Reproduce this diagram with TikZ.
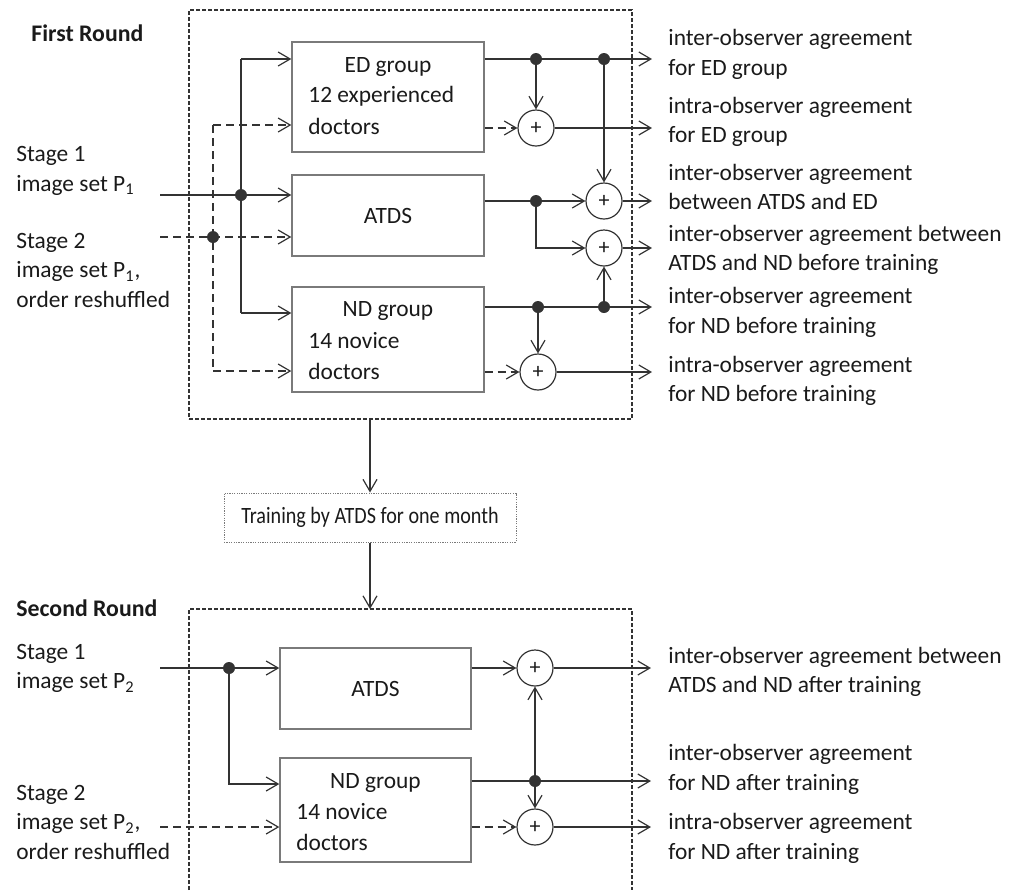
\documentclass[tikz,border=0pt]{standalone}
\usepackage{fontspec}
\setmainfont{Carlito}
\usetikzlibrary{arrows.meta}
\definecolor{ln}{HTML}{333333}
\definecolor{bx}{HTML}{7A7A7A}
\definecolor{tx}{HTML}{1A1A1A}
\begin{document}
\begin{tikzpicture}[x=0.5pt,y=-0.5pt,
  font=\fontsize{11.7}{14.75}\selectfont,
  >={Straight Barb[length=6pt,width=7pt]},
  every node/.style={text=tx},
  plain/.style={draw=ln,line width=0.6pt},
  conn/.style={plain,->},
  dconn/.style={conn,dash pattern=on 4pt off 2.5pt},
  dline/.style={plain,dash pattern=on 4pt off 2.5pt},
  proc/.style={draw=bx,line width=0.7pt,minimum width=96pt,inner sep=0pt},
  sum/.style={circle,draw=ln,line width=0.6pt,minimum size=18pt,inner sep=0pt,font=\fontsize{11}{11}\selectfont},
  bigbox/.style={draw=ln,line width=0.6pt,dash pattern=on 2pt off 1pt},
  lbl/.style={anchor=west,align=left,inner sep=0pt},
  dot/.style={fill=ln}
]
\useasboundingbox (0,0) rectangle (1033,890);

% ---------------- First round ----------------
\node[bigbox,minimum width=221.5pt,minimum height=204.5pt,inner sep=0pt] (r1) at (410.5,214.5) {};
\node[lbl,font=\fontsize{11.9}{14.75}\selectfont\bfseries] (fr) at (31,33) {First Round};

\node[proc,minimum height=55pt] (ed) at (388,97) {};
\node (edl1) at (388,67) {ED group};
\node[lbl] (edl2) at (308,96) {12 experienced};
\node[lbl] (edl3) at (308,126) {doctors};

\node[proc,minimum height=40.5pt] (atds) at (388,215.5) {};
\node (atdsl) at (388,216) {ATDS};

\node[proc,minimum height=52.5pt] (nd) at (388,339.5) {};
\node (ndl1) at (388,311) {ND group};
\node[lbl] (ndl2) at (308,341) {14 novice};
\node[lbl] (ndl3) at (308,371) {doctors};

\node[lbl] (in1) at (16,171) {Stage 1\\image set P\textsubscript{1}};
\node[lbl] (in2) at (16,270) {Stage 2\\image set P\textsubscript{1},\\order reshuffled};

% inputs
\coordinate (s1) at (160,195);
\coordinate (j1) at (241,195);
\coordinate (j1t) at (241,59);
\coordinate (j1b) at (241,313);
\draw[conn] (s1) -- (s1 -| atds.west);
\draw[plain] (j1t) -- (j1b);
\draw[conn] (j1t) -- (j1t -| ed.west);
\draw[conn] (j1b) -- (j1b -| nd.west);
\fill[dot] (j1) circle (3pt);

\coordinate (s2) at (160,237);
\coordinate (j2) at (213,237);
\coordinate (j2t) at (213,125);
\coordinate (j2b) at (213,371);
\draw[dconn] (s2) -- (s2 -| atds.west);
\draw[dline] (j2t) -- (j2b);
\draw[dconn] (j2t) -- (j2t -| ed.west);
\draw[dconn] (j2b) -- (j2b -| nd.west);
\fill[dot] (j2) circle (3pt);

% sums
\node[sum] (c1) at (536,128) {+};
\node[sum] (c3) at (604,201) {+};
\node[sum] (c4) at (604,248) {+};
\node[sum] (c5) at (538,372) {+};

% outputs
\coordinate (o1) at (652,59);
\coordinate (o2) at (652,128);
\coordinate (o3) at (652,201);
\coordinate (o4) at (652,248);
\coordinate (o5) at (652,307);
\coordinate (o6) at (652,372);
\coordinate (d1) at (536,59);
\coordinate (d2) at (604,59);
\coordinate (d3) at (536,201);
\coordinate (d4) at (538,307);
\coordinate (d5) at (604,307);

\draw[conn] (o1 -| ed.east) -- (o1);
\draw[conn] (d1) -- (c1.north);
\draw[dconn] (c1 -| ed.east) -- (c1.west);
\draw[conn] (c1.east) -- (o2);
\draw[conn] (d2) -- (c3.north);
\draw[conn] (c3 -| atds.east) -- (c3.west);
\draw[conn] (d3) |- (c4.west);
\draw[conn] (c3.east) -- (o3);
\draw[conn] (c4.east) -- (o4);
\draw[conn] (o5 -| nd.east) -- (o5);
\draw[conn] (d5) -- (c4.south);
\draw[conn] (d4) -- (c5.north);
\draw[dconn] (c5 -| nd.east) -- (c5.west);
\draw[conn] (c5.east) -- (o6);
\foreach \d in {d1,d2,d3,d4,d5} \fill[dot] (\d) circle (3pt);

\node[lbl] (t1) at (668,54.5) {inter-observer agreement\\for ED group};
\node[lbl] (t2) at (668,122) {intra-observer agreement\\for ED group};
\node[lbl] (t3) at (668,187) {inter-observer agreement\\between ATDS and ED};
\node[lbl] (t4) at (668,250) {inter-observer agreement between\\ATDS and ND before training};
\node[lbl] (t5) at (668,312.5) {inter-observer agreement\\for ND before training};
\node[lbl] (t6) at (668,381) {intra-observer agreement\\for ND before training};

% ---------------- Training ----------------
\node[draw=bx,line width=0.5pt,dash pattern=on 0.6pt off 0.6pt,minimum width=146pt,minimum height=24.5pt,inner sep=0pt] (train) at (370,517.5) {\scalebox{0.86}[1]{Training by ATDS for one month}};
\draw[conn] (r1.south -| train) -- (train.north);
\coordinate (r2t) at (370,609);
\draw[conn] (train.south) -- (r2t);

% ---------------- Second round ----------------
\coordinate (r2a) at (189,890);
\coordinate (r2b) at (632,609);
\coordinate (r2c) at (632,890);
\draw[bigbox] (r2a) |- (r2b) -- (r2c);
\node[lbl,font=\fontsize{11.9}{14.75}\selectfont\bfseries] (sr) at (16,608) {Second Round};

\node[proc,minimum width=95.5pt,minimum height=40.5pt] (atds2) at (375.5,688.5) {};
\node (atds2l) at (375.5,689) {ATDS};
\node[proc,minimum width=95.5pt,minimum height=52pt] (nd2) at (375.5,810) {};
\node (nd2l1) at (375.5,783) {ND group};
\node[lbl] (nd2l2) at (296,812) {14 novice};
\node[lbl] (nd2l3) at (296,842) {doctors};

\node[lbl] (in3) at (16,668.5) {Stage 1\\image set P\textsubscript{2}};
\node[lbl] (in4) at (16,822) {Stage 2\\image set P\textsubscript{2},\\order reshuffled};

\coordinate (s3) at (160,668);
\coordinate (j3) at (229,668);
\coordinate (j3b) at (229,784);
\draw[conn] (s3) -- (s3 -| atds2.west);
\draw[conn] (j3) |- (j3b -| nd2.west);
\fill[dot] (j3) circle (3pt);
\coordinate (s4) at (160,827);
\draw[dconn] (s4) -- (s4 -| nd2.west);

\node[sum] (cA) at (535,668) {+};
\node[sum] (cB) at (535,827) {+};
\coordinate (oA) at (651,668);
\coordinate (oB) at (651,781);
\coordinate (oC) at (651,827);
\coordinate (dB) at (535,781);
\draw[conn] (cA -| atds2.east) -- (cA.west);
\draw[conn] (cA.east) -- (oA);
\draw[conn] (oB -| nd2.east) -- (oB);
\draw[conn] (dB) -- (cA.south);
\draw[conn] (dB) -- (cB.north);
\draw[dconn] (cB -| nd2.east) -- (cB.west);
\draw[conn] (cB.east) -- (oC);
\fill[dot] (dB) circle (3pt);

\node[lbl] (t7) at (668,672) {inter-observer agreement between\\ATDS and ND after training};
\node[lbl] (t8) at (668,769.5) {inter-observer agreement\\for ND after training};
\node[lbl] (t9) at (668,838.5) {intra-observer agreement\\for ND after training};
\end{tikzpicture}
\end{document}
